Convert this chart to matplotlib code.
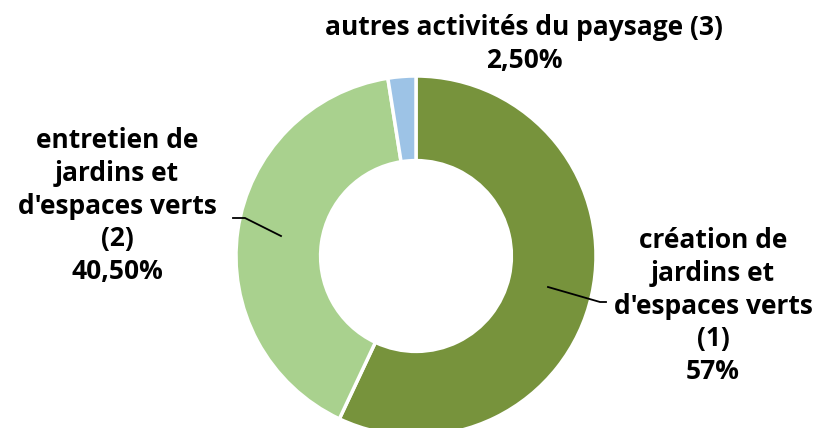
import matplotlib
matplotlib.use('Agg')
import matplotlib.pyplot as plt

plt.rcParams['font.family'] = ['Open Sans', 'DejaVu Sans']

labels = ["création de\njardins et\nd'espaces verts\n(1)\n57%",
          "entretien de\njardins et\nd'espaces verts\n(2)\n40,50%",
          "autres activités du paysage (3)\n2,50%"]
values = [57, 40.5, 2.5]
colors = ['#77933c', '#a9d18e', '#9dc3e6']

W, H = 816, 428
fig = plt.figure(figsize=(W / 100, H / 100), dpi=100)
ax = fig.add_axes([0, 0, 1, 1])

cx, cy, r = 416, H - 256, 180
ax.pie(values, colors=colors, startangle=90, counterclock=False,
       center=(cx, cy), radius=r, frame=True,
       wedgeprops=dict(width=r * 0.47, edgecolor='white', linewidth=2.5))
ax.set_xlim(0, W)
ax.set_ylim(0, H)
ax.set_aspect('equal')
ax.axis('off')

# leader lines (pixel coords, y from top)
def line(pts):
    ax.plot([p[0] for p in pts], [H - p[1] for p in pts], color='black', lw=1.3)

line([(548, 287), (600, 302), (606, 302)])
line([(281, 236), (245, 218), (233, 218)])

tkw = dict(ha='center', va='center', fontsize=19, fontweight='bold',
           linespacing=1.28, color='black')
ax.text(713, H - 306, labels[0], **tkw)
ax.text(117, H - 206, labels[1], **tkw)
ax.text(524, H - 44, labels[2], **tkw)

fig.savefig('out.png', dpi=100)
